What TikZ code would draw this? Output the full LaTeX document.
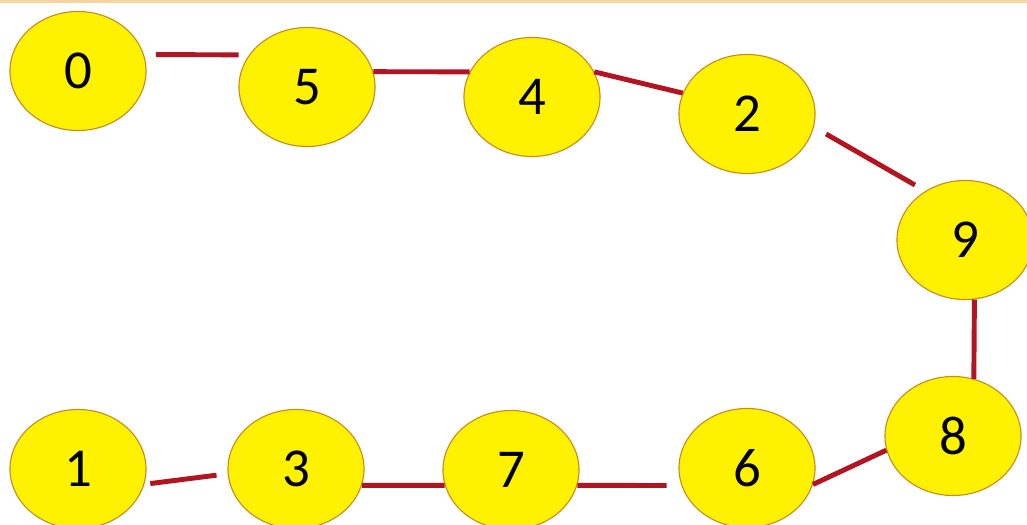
\documentclass[tikz,border=0pt]{standalone}
\usepackage{fontspec}
\setmainfont{Carlito}
\usetikzlibrary{shapes.geometric}
\definecolor{beadline}{RGB}{200,140,30}
\definecolor{linkred}{RGB}{178,20,34}
\definecolor{topband}{RGB}{246,214,160}

\begin{document}
\begin{tikzpicture}[x=0.025cm, y=-0.025cm,
    bead/.style={ellipse, draw=beadline, line width=0.8pt, fill=yellow, minimum width=3.4cm, minimum height=2.975cm, inner sep=0pt, font=\fontsize{39}{40}\selectfont},
    link/.style={draw=linkred, line width=3.5pt}]
  \useasboundingbox (0,0) rectangle (1027,525);

  % top border
  \fill[topband] (0,0) rectangle (1027,3);

  % Beads, top row
  \node[bead] (n0) at (78,71) {0};
  \node[bead] (n5) at (307,87) {5};
  \node[bead] (n4) at (532,97) {4};
  \node[bead] (n2) at (747,114) {2};
  \node[bead] (n9) at (965,240) {9};

  % Beads, bottom row
  \node[bead] (n8) at (953,436) {8};
  \node[bead] (n6) at (747,468) {6};
  \node[bead] (n7) at (511,470) {7};
  \node[bead] (n3) at (296,469) {3};
  \node[bead] (n1) at (78,469) {1};

  % Links
  \draw[link, shorten <=0.3cm, shorten >=0.26cm] (n0.14) -- (n5.151);
  \draw[link] (n5.13) -- (n4.158);
  \draw[link] (n4.22) -- (n2.162);
  \draw[link, shorten <=0.35cm, shorten >=0.3cm] (n2.-11) -- (n9.129);
  \draw[link] (n9.-81) -- (n8.70);
  \draw[link] (n8.192) -- (n6.-14);
  \draw[link, shorten <=0.37cm] (n6.195) -- (n7.-13);
  \draw[link] (n7.193) -- (n3.-14);
  \draw[link, shorten <=0.28cm, shorten >=0.15cm] (n3.184) -- (n1.-13);
\end{tikzpicture}
\end{document}
